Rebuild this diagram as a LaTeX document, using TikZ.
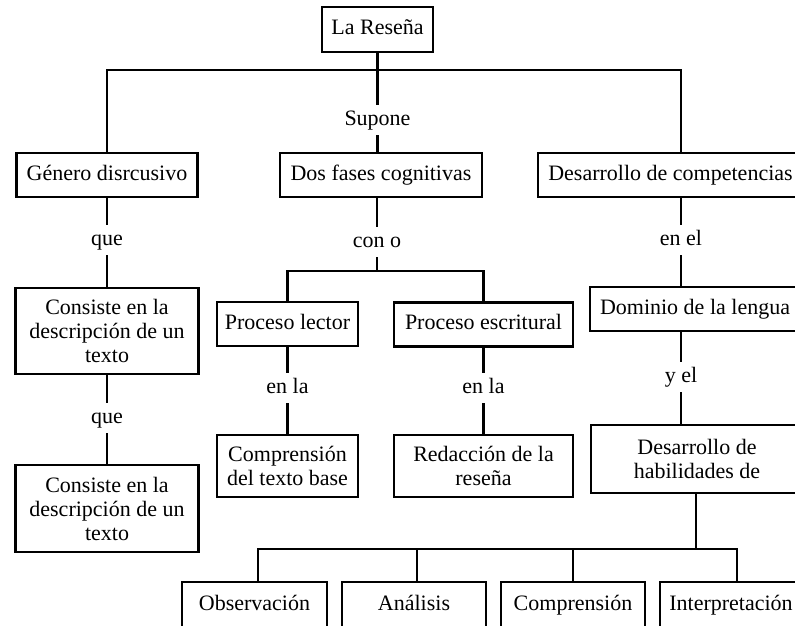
\documentclass[tikz,border=0pt]{standalone}
\usepackage{fontspec}
\setmainfont{Liberation Serif}
\usetikzlibrary{positioning}
\tikzset{
  box/.style={draw=black, line width=2.7pt, align=center, inner sep=0pt,
              font=\fontsize{22}{24}\selectfont},
  onebox/.style={box, text height=15pt, text depth=5pt},
  lbl/.style={inner sep=5pt, text height=15pt, text depth=5pt,
              font=\fontsize{22}{24}\selectfont},
  conn/.style={line width=2.7pt},
}

\begin{document}
\begin{tikzpicture}[x=1pt, y=-1pt]
  \path[use as bounding box, clip] (0,0) rectangle (795,625);
  % Root
  \node[onebox, minimum width=111pt, minimum height=45pt] (res) at (377.5,29.5) {La Reseña};
  \node[lbl] (supone) at (377.5,120) {Supone};
  \coordinate (jtop) at (377.5,70);
  % First level
  \node[onebox, minimum width=181pt, minimum height=44pt] (gen) at (107,175) {Género disrcusivo};
  \node[onebox, minimum width=202pt, minimum height=44pt] (dos) at (381,175) {Dos fases cognitivas};
  \node[onebox, minimum width=265pt, minimum height=44pt] (des) at (670.5,175) {Desarrollo de competencias};
  % Left branch
  \node[lbl] (que1) at (107,240) {que};
  \node[box, minimum width=183pt, minimum height=86pt] (con1) at (107,331)
    {Consiste en la\\ descripción de un\\ texto};
  \node[lbl] (que2) at (107,418) {que};
  \node[box, minimum width=183pt, minimum height=87pt] (con2) at (107,508.5)
    {Consiste en la\\ descripción de un\\ texto};
  % Middle branch
  \node[lbl] (cono) at (377,242) {con o};
  \coordinate (jmid) at (377,271);
  \node[onebox, minimum width=141pt, minimum height=44pt] (lec) at (287.5,324) {Proceso lector};
  \node[onebox, minimum width=179pt, minimum height=44pt] (esc) at (483.5,324.5) {Proceso escritural};
  \node[lbl] (enla1) at (287.5,388) {en la};
  \node[lbl] (enla2) at (483.5,388) {en la};
  \node[box, minimum width=141pt, minimum height=62pt] (cmp) at (287.5,466)
    {Comprensión\\ del texto base};
  \node[box, minimum width=179pt, minimum height=62pt] (red) at (483.5,466)
    {Redacción de la\\ reseña};
  % Right branch
  \node[lbl] (enel) at (681,240) {en el};
  \node[onebox, minimum width=210pt, minimum height=44pt] (dom) at (695,309) {Dominio de la lengua};
  \node[lbl] (yel) at (681,377) {y el};
  \node[box, minimum width=212pt, minimum height=68pt] (hab) at (697,459)
    {Desarrollo de\\ habilidades de};
  % Skills row
  \coordinate (jbot) at (696,549);
  \node[onebox, minimum width=145pt, minimum height=46pt] (obs) at (254.5,605) {Observación};
  \node[onebox, minimum width=144pt, minimum height=46pt] (ana) at (414,605) {Análisis};
  \node[onebox, minimum width=144pt, minimum height=46pt] (comp) at (573,605) {Comprensión};
  \node[onebox, minimum width=142pt, minimum height=46pt] (inter) at (731,605) {Interpretación};
  % Connectors
  \draw[conn] (res.south) -- (supone.north);
  \draw[conn] (gen.north) |- (jtop) -| ([xshift=10.5pt]des.north);
  \draw[conn] (supone.south) -- (supone.south |- dos.north);
  \draw[conn] (gen) -- (que1);
  \draw[conn] (que1) -- (con1);
  \draw[conn] (con1) -- (que2);
  \draw[conn] (que2) -- (con2);
  \draw[conn] (cono.north |- dos.south) -- (cono.north);
  \draw[conn] (cono.south) -- (jmid);
  \draw[conn] (lec.north) |- (jmid) -| (esc.north);
  \draw[conn] (lec) -- (enla1);
  \draw[conn] (enla1) -- (cmp);
  \draw[conn] (esc) -- (enla2);
  \draw[conn] (enla2) -- (red);
  \draw[conn] (enel.north |- des.south) -- (enel.north);
  \draw[conn] (enel.south) -- (enel.south |- dom.north);
  \draw[conn] (yel.north |- dom.south) -- (yel.north);
  \draw[conn] (yel.south) -- (yel.south |- hab.north);
  \draw[conn] (jbot |- hab.south) -- (jbot);
  \draw[conn] ([xshift=3.5pt]obs.north) |- (jbot) -| ([xshift=6pt]inter.north);
  \draw[conn] ([xshift=3pt]ana.north) -- ([xshift=3pt]ana.north |- jbot);
  \draw[conn] (comp.north) -- (comp.north |- jbot);
\end{tikzpicture}
\end{document}
